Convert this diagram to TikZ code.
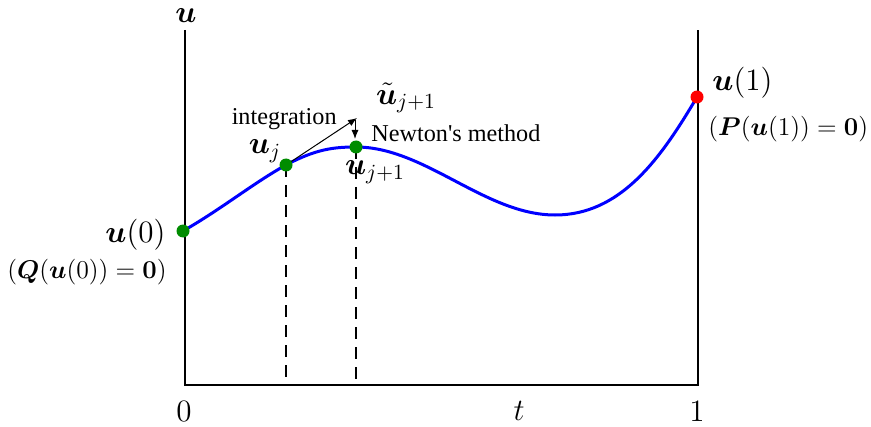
\documentclass[tikz,border=0pt]{standalone}
\usepackage{tikz}
\usetikzlibrary{arrows.meta,positioning,calc}
\usepackage{amsmath,amssymb,bm}
\usepackage[no-math]{fontspec}
\newfontfamily\notefont{Liberation Serif}
\definecolor{ptgreen}{RGB}{0,140,0}

\begin{document}
\begin{tikzpicture}[x=0.5pt, y=-0.5pt,
  axis/.style={line width=0.8pt},
  dot/.style={circle, inner sep=0pt, minimum size=6.5pt},
  lbl/.style={inner sep=0pt, font=\Large, scale=1.08},
  cond/.style={inner sep=0pt, font=\large, scale=1.07},
  note/.style={inner sep=0pt, font=\notefont\fontsize{12.1}{14}\selectfont},
  arr/.style={-{Latex[length=4.5pt, width=3.5pt]}, line width=0.5pt}
]
  \useasboundingbox (0,0) rectangle (871,427);
  % axes
  \coordinate (top0) at (185,30);
  \coordinate (bot0) at (185,385);
  \coordinate (top1) at (698,30);
  \coordinate (bot1) at (698,385);
  \draw[axis] (top0) -- (bot0) -- (bot1) -- (top1);
  \node[lbl] (ulabel) at (186,16) {$\bm{u}$};
  \node[lbl] (tzero) at (184,411) {$0$};
  \node[lbl] (tlabel) at (519,411) {$t$};
  \node[lbl] (tone) at (697,411) {$1$};

  % solution curve
  \coordinate (c0) at (183,231);
  \coordinate (cj) at (286,165);
  \coordinate (cj1) at (356,147);
  \coordinate (cmin) at (555,215);
  \coordinate (c1) at (697,97);
  \draw[blue, line width=1.5pt] (c0) .. controls (220,210) and (255,182) .. (cj)
    .. controls (316,149) and (334,147) .. (cj1)
    .. controls (425,147) and (485,215) .. (cmin)
    .. controls (620,215) and (660,160) .. (c1);

  % dashed guides
  \coordinate (fj) at (286,385);
  \coordinate (fj1) at (356,385);
  \draw[dashed, line width=0.6pt, dash pattern=on 6pt off 4pt] (cj) -- (fj);
  \draw[dashed, line width=0.6pt, dash pattern=on 6pt off 4pt] (cj1) -- (fj1);

  % integration step and Newton correction
  \coordinate (pred) at (357,118);
  \draw[arr] (cj) -- (pred);
  \coordinate (newtop) at (355,120);
  \coordinate (newbot) at (355,139);
  \draw[arr] (newtop) -- (newbot);
  \node[note, anchor=east] (integ) at (337,119) {integration};
  \node[lbl] (utilde) at (406,98) {$\tilde{\bm{u}}_{j+1}$};
  \node[note, anchor=west] (newton) at (371,133) {Newton's method};

  % points
  \node[dot, fill=ptgreen] (p0) at (c0) {};
  \node[dot, fill=ptgreen] (pj) at (cj) {};
  \node[dot, fill=ptgreen] (pj1) at (cj1) {};
  \node[dot, fill=red] (p1) at (c1) {};

  % point labels
  \node[lbl] (uj) at (265,151) {$\bm{u}_j$};
  \node[lbl] (uj1) at (375,172) {$\bm{u}_{j+1}$};
  \node[lbl, anchor=east] (u0) at (166,235) {$\bm{u}(0)$};
  \node[cond, anchor=east] (qcond) at (167,272) {$(\bm{Q}(\bm{u}(0))=\bm{0})$};
  \node[lbl, anchor=west] (u1) at (712,83) {$\bm{u}(1)$};
  \node[cond, anchor=west] (pcond) at (708,129) {$(\bm{P}(\bm{u}(1))=\bm{0})$};
\end{tikzpicture}
\end{document}
